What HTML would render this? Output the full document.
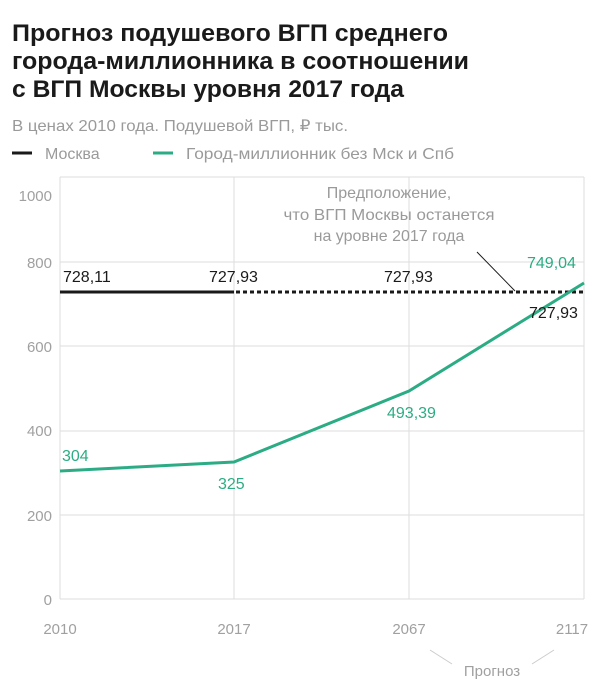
<!DOCTYPE html>
<html><head><meta charset="utf-8"><style>
body{margin:0;background:#fff;width:600px;height:683px;overflow:hidden}
svg{display:block}
text{font-family:"Liberation Sans","Noto Sans CJK SC",sans-serif}
</style></head><body>
<svg width="600" height="683" viewBox="0 0 600 683">
<g font-weight="bold" font-size="24" fill="#1a1a1a">
<text x="12" y="41" textLength="436" lengthAdjust="spacingAndGlyphs">Прогноз подушевого ВГП среднего</text>
<text x="12" y="69" textLength="457" lengthAdjust="spacingAndGlyphs">города-миллионника в соотношении</text>
<text x="12" y="97" textLength="392" lengthAdjust="spacingAndGlyphs">с ВГП Москвы уровня 2017 года</text>
</g>
<text x="12" y="131" font-size="16" fill="#9a9a9a" textLength="336" lengthAdjust="spacingAndGlyphs">В ценах 2010 года. Подушевой ВГП, ₽ тыс.</text>
<line x1="12" y1="153" x2="32" y2="153" stroke="#1a1a1a" stroke-width="3"/>
<text x="45" y="159" font-size="16" fill="#9a9a9a">Москва</text>
<line x1="153" y1="153" x2="173" y2="153" stroke="#2bac84" stroke-width="3"/>
<text x="186" y="159" font-size="16" fill="#9a9a9a" textLength="268" lengthAdjust="spacingAndGlyphs">Город-миллионник без Мск и Спб</text>
<g stroke="#dedede" stroke-width="1">
<line x1="60" y1="177" x2="584" y2="177"/>
<line x1="60" y1="262" x2="584" y2="262"/>
<line x1="60" y1="346" x2="584" y2="346"/>
<line x1="60" y1="431" x2="584" y2="431"/>
<line x1="60" y1="515" x2="584" y2="515"/>
<line x1="60" y1="599" x2="584" y2="599"/>
<line x1="60" y1="177" x2="60" y2="599"/>
<line x1="234" y1="177" x2="234" y2="599"/>
<line x1="409" y1="177" x2="409" y2="599"/>
<line x1="584" y1="177" x2="584" y2="599"/>
</g>
<g font-size="15" fill="#a0a0a0" text-anchor="end">
<text x="52" y="201">1000</text>
<text x="52" y="268">800</text>
<text x="52" y="352">600</text>
<text x="52" y="436">400</text>
<text x="52" y="521">200</text>
<text x="52" y="605">0</text>
</g>
<g font-size="15" fill="#a0a0a0" text-anchor="middle">
<text x="60" y="634">2010</text>
<text x="234" y="634">2017</text>
<text x="409" y="634">2067</text>
<text x="572" y="634">2117</text>
<text x="492" y="676">Прогноз</text>
</g>
<line x1="430" y1="650" x2="452" y2="664" stroke="#ccc"/>
<line x1="554" y1="650" x2="532" y2="664" stroke="#ccc"/>
<line x1="60" y1="292" x2="234" y2="292" stroke="#1a1a1a" stroke-width="3"/>
<line x1="236" y1="292" x2="584" y2="292" stroke="#1a1a1a" stroke-width="3" stroke-dasharray="4,3"/>
<polyline points="60,471 234,462 409,391 584,283" fill="none" stroke="#2bac84" stroke-width="3"/>
<line x1="477" y1="252" x2="515" y2="291" stroke="#1a1a1a" stroke-width="1"/>
<g font-size="16" fill="#9a9a9a" text-anchor="middle">
<text x="389" y="198">Предположение,</text>
<text x="389" y="220" textLength="211" lengthAdjust="spacingAndGlyphs">что ВГП Москвы останется</text>
<text x="389" y="241">на уровне 2017 года</text>
</g>
<g font-size="16" fill="#1a1a1a">
<text x="63" y="282">728,11</text>
<text x="209" y="282">727,93</text>
<text x="384" y="282">727,93</text>
<text x="529" y="318">727,93</text>
</g>
<g font-size="16" fill="#2bac84">
<text x="527" y="268">749,04</text>
<text x="62" y="461">304</text>
<text x="218" y="489">325</text>
<text x="387" y="418">493,39</text>
</g>
</svg>
</body></html>
